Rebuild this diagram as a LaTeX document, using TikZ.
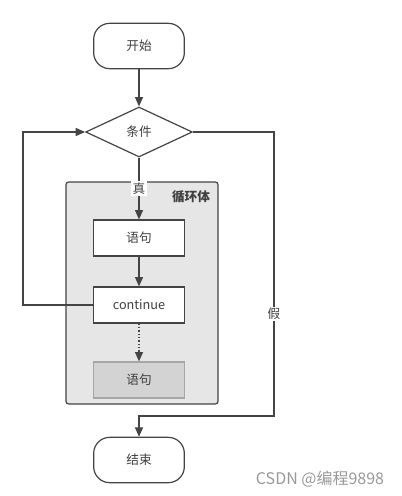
\documentclass[tikz,border=0pt]{standalone}
\usepackage{fontspec}
\setmainfont{Noto Sans CJK SC}
\usepackage{xcolor}
\usetikzlibrary{shapes.geometric,arrows.meta}

\definecolor{linegray}{HTML}{444444}
\definecolor{loopgray}{HTML}{E6E6E6}
\definecolor{stmtgray}{HTML}{D3D3D3}

\begin{document}
\begin{tikzpicture}[x=0.75pt,y=-0.75pt,
    font=\fontsize{9.5}{11}\selectfont, text=black!75, line width=0.9pt,
    terminal/.style={rectangle, rounded corners=12pt, draw=linegray, fill=white,
      minimum width=68pt, minimum height=34pt},
    decision/.style={diamond, draw=linegray, fill=white, inner sep=0pt,
      minimum width=80pt, minimum height=37.5pt},
    process/.style={rectangle, draw=linegray, fill=white,
      minimum width=68pt, minimum height=27pt},
    arrow/.style={-{Triangle[length=7pt,width=6pt]}, draw=linegray},
    lbl/.style={fill=white, inner sep=1pt}]
  \useasboundingbox (0,0) rectangle (401,496);

  % Loop body background
  \draw[draw=linegray, fill=loopgray, rounded corners=2pt] (66,182) rectangle (218,404);
  \node[font=\fontsize{9.5}{11}\selectfont\bfseries] (body) at (191,197) {循环体};

  % Nodes
  \node[terminal] (start) at (139,46) {开始};
  \node[decision] (cond) at (139,132) {条件};
  \node[process] (stmt) at (139,238) {语句};
  \node[process] (cont) at (139,305) {continue};
  \node[process, fill=stmtgray, draw=black!35] (rest) at (139,380) {语句};
  \node[terminal] (finish) at (139,460) {结束};

  % Connectors
  \draw[arrow] (start) -- (cond);
  \draw[arrow] (cond) -- node[lbl, pos=0.5] {真} (stmt);
  \draw[arrow] (stmt) -- (cont);
  \draw[arrow, dash pattern=on 1pt off 1.5pt] (cont) -- (rest);
  \draw[arrow] (cont.west) -- ++(-70,0) |- (cond.west);
  \draw[arrow] (cond.east) -- (274,132) -- node[lbl, pos=0.64] {假} (274,416) -| (finish.north);

  % Watermark
  \node[text=black!40, font=\fontsize{12}{14}\selectfont] (mark) at (320,479) {CSDN @编程9898};
\end{tikzpicture}
\end{document}
